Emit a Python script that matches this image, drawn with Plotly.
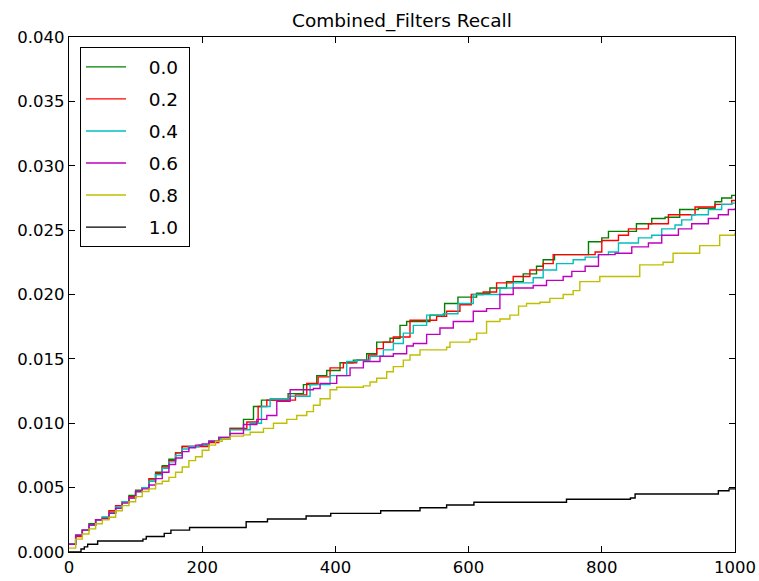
import plotly.graph_objects as go

# Recall curves for each filter weight (step-wise cumulative values)
x_00 = [0, 10, 20, 30, 40, 50, 60, 70, 80, 90, 100, 110, 120, 130, 140, 150, 160, 170, 180, 195,
        210, 225, 242, 262, 277, 289, 317, 329, 352, 372, 387, 407, 427, 447, 462, 482, 497, 507,
        542, 564, 584, 612, 632, 657, 682, 702, 712, 729, 780, 800, 810, 852, 875, 895, 917, 945,
        970, 980, 995, 1000]
y_00 = [0.0006, 0.0013, 0.0017, 0.0022, 0.0025, 0.0027, 0.0031, 0.0036, 0.0039, 0.0044, 0.0048,
        0.0050, 0.0056, 0.0062, 0.0067, 0.0072, 0.0077, 0.0082, 0.0082, 0.0083, 0.0086, 0.0089,
        0.0096, 0.0103, 0.0113, 0.0118, 0.0118, 0.0123, 0.0130, 0.0137, 0.0141, 0.0147, 0.0149,
        0.0154, 0.0163, 0.0166, 0.0176, 0.0179, 0.0184, 0.0193, 0.0198, 0.0201, 0.0205, 0.0210,
        0.0216, 0.0222, 0.0227, 0.0231, 0.0241, 0.0244, 0.0249, 0.0255, 0.0259, 0.0260, 0.0266,
        0.0267, 0.0272, 0.0275, 0.0277, 0.0277]

x_02 = [0, 10, 20, 30, 40, 50, 60, 70, 80, 90, 100, 110, 120, 130, 140, 150, 160, 170, 195, 210,
        225, 242, 267, 284, 297, 340, 357, 374, 392, 412, 432, 450, 462, 472, 487, 512, 552, 567,
        587, 604, 622, 642, 667, 692, 712, 727, 790, 800, 825, 840, 870, 900, 940, 970, 995, 1000]
y_02 = [0.0006, 0.0012, 0.0017, 0.0021, 0.0025, 0.0026, 0.0032, 0.0036, 0.0039, 0.0043, 0.0047,
        0.0050, 0.0057, 0.0061, 0.0066, 0.0071, 0.0077, 0.0082, 0.0082, 0.0085, 0.0088, 0.0096,
        0.0101, 0.0113, 0.0118, 0.0122, 0.0131, 0.0136, 0.0143, 0.0147, 0.0149, 0.0153, 0.0158,
        0.0163, 0.0167, 0.0180, 0.0183, 0.0187, 0.0192, 0.0200, 0.0202, 0.0209, 0.0214, 0.0219,
        0.0224, 0.0231, 0.0233, 0.0242, 0.0246, 0.0251, 0.0255, 0.0262, 0.0268, 0.0270, 0.0273,
        0.0273]

x_04 = [0, 10, 20, 30, 40, 50, 60, 70, 80, 90, 100, 110, 120, 130, 140, 150, 160, 170, 180, 195,
        210, 225, 242, 272, 289, 302, 332, 362, 392, 417, 432, 452, 472, 487, 502, 517, 537, 562,
        584, 607, 647, 667, 697, 712, 732, 757, 775, 795, 810, 825, 855, 875, 890, 910, 920, 935,
        960, 980, 995, 1000]
y_04 = [0.0006, 0.0013, 0.0017, 0.0021, 0.0025, 0.0027, 0.0030, 0.0035, 0.0039, 0.0042, 0.0047,
        0.0050, 0.0055, 0.0060, 0.0065, 0.0070, 0.0075, 0.0080, 0.0082, 0.0083, 0.0086, 0.0088,
        0.0095, 0.0100, 0.0113, 0.0119, 0.0121, 0.0130, 0.0137, 0.0148, 0.0149, 0.0152, 0.0157,
        0.0162, 0.0170, 0.0176, 0.0184, 0.0185, 0.0193, 0.0200, 0.0205, 0.0209, 0.0213, 0.0219,
        0.0224, 0.0227, 0.0229, 0.0231, 0.0233, 0.0240, 0.0244, 0.0246, 0.0251, 0.0254, 0.0258,
        0.0262, 0.0266, 0.0270, 0.0271, 0.0271]

x_06 = [0, 10, 20, 30, 40, 50, 60, 70, 80, 90, 100, 110, 120, 130, 140, 150, 160, 170, 180, 190,
        200, 210, 225, 242, 262, 282, 297, 312, 332, 367, 377, 402, 422, 442, 467, 487, 507, 517,
        537, 557, 577, 607, 627, 647, 667, 697, 717, 742, 755, 775, 795, 820, 845, 870, 890, 915,
        935, 960, 975, 990, 1000]
y_06 = [0.0006, 0.0013, 0.0017, 0.0021, 0.0025, 0.0026, 0.0030, 0.0034, 0.0038, 0.0042, 0.0047,
        0.0049, 0.0052, 0.0057, 0.0062, 0.0068, 0.0073, 0.0078, 0.0081, 0.0083, 0.0084, 0.0086,
        0.0089, 0.0092, 0.0099, 0.0103, 0.0106, 0.0117, 0.0126, 0.0127, 0.0131, 0.0137, 0.0143,
        0.0148, 0.0152, 0.0154, 0.0160, 0.0162, 0.0169, 0.0174, 0.0179, 0.0187, 0.0189, 0.0200,
        0.0205, 0.0207, 0.0211, 0.0214, 0.0218, 0.0222, 0.0231, 0.0232, 0.0237, 0.0240, 0.0246,
        0.0251, 0.0255, 0.0259, 0.0262, 0.0266, 0.0267]

x_08 = [0, 10, 20, 30, 40, 50, 60, 70, 80, 90, 100, 110, 120, 130, 140, 150, 160, 170, 180, 190,
        200, 210, 220, 230, 242, 262, 272, 292, 307, 327, 342, 357, 367, 377, 392, 402, 442, 452,
        462, 477, 487, 502, 512, 527, 567, 572, 602, 612, 627, 647, 662, 675, 687, 707, 722, 742,
        757, 767, 797, 857, 892, 907, 947, 977, 1000]
y_08 = [0.0003, 0.0010, 0.0014, 0.0018, 0.0022, 0.0025, 0.0027, 0.0032, 0.0036, 0.0039, 0.0043,
        0.0047, 0.0049, 0.0053, 0.0055, 0.0058, 0.0062, 0.0066, 0.0071, 0.0074, 0.0079, 0.0083,
        0.0086, 0.0088, 0.0090, 0.0091, 0.0093, 0.0096, 0.0100, 0.0103, 0.0106, 0.0109, 0.0114,
        0.0119, 0.0126, 0.0128, 0.0129, 0.0132, 0.0135, 0.0140, 0.0144, 0.0149, 0.0153, 0.0157,
        0.0159, 0.0163, 0.0165, 0.0170, 0.0179, 0.0181, 0.0184, 0.0191, 0.0193, 0.0194, 0.0197,
        0.0200, 0.0203, 0.0210, 0.0214, 0.0223, 0.0225, 0.0232, 0.0238, 0.0246, 0.0248]

x_10 = [0, 18, 23, 28, 43, 111, 116, 143, 153, 181, 266, 298, 356, 393, 468, 527, 567, 608, 747,
        843, 850, 975, 991, 1000]
y_10 = [0.0, 0.00023, 0.0004, 0.0006, 0.00085, 0.001, 0.0012, 0.00145, 0.0017, 0.0019, 0.00235,
        0.00256, 0.0028, 0.003, 0.0032, 0.00344, 0.00365, 0.00386, 0.0041, 0.0042, 0.0045,
        0.00476, 0.0049, 0.0049]

series = [
    ("0.0", x_00, y_00, "#008000"),
    ("0.2", x_02, y_02, "#ff0000"),
    ("0.4", x_04, y_04, "#00bfbf"),
    ("0.6", x_06, y_06, "#bf00bf"),
    ("0.8", x_08, y_08, "#bfbf00"),
    ("1.0", x_10, y_10, "#000000"),
]

y_ticks = [0.0, 0.005, 0.010, 0.015, 0.020, 0.025, 0.030, 0.035, 0.040]
y_tick_text = ["0.000", "0.005", "0.010", "0.015", "0.020", "0.025", "0.030", "0.035", "0.040"]
x_ticks = [0, 200, 400, 600, 800, 1000]

FONT = "DejaVu Sans"

fig = go.Figure()
for name, xs, ys, color in series:
    fig.add_trace(go.Scatter(
        x=xs, y=ys, mode="lines", name="   " + name + "\u00a0", legendgroup=name,
        line=dict(color=color, width=1.4, shape="hv"),
    ))

axis_common = dict(
    showline=True, linecolor="black", linewidth=1.2, mirror="ticks",
    ticks="inside", ticklen=6, tickcolor="black", tickwidth=1,
    showgrid=False, zeroline=False, automargin=False,
    tickfont=dict(family=FONT, size=16.5, color="black"),
)

fig.update_layout(
    width=759, height=581,
    margin=dict(l=69, r=24, t=37, b=29),
    paper_bgcolor="white", plot_bgcolor="white",
    title=dict(text="Combined_Filters Recall", x=0.5, xanchor="center",
               xref="paper", y=1, yref="paper", yanchor="bottom", pad=dict(b=10),
               font=dict(family=FONT, size=18.5, color="black")),
    xaxis=dict(range=[0, 1000], tickvals=x_ticks, **axis_common),
    yaxis=dict(range=[0, 0.04], tickvals=y_ticks, ticktext=y_tick_text, **axis_common),
    legend=dict(x=0.0165, y=0.98, xanchor="left", yanchor="top",
                bordercolor="black", borderwidth=1, bgcolor="white",
                font=dict(family=FONT, size=18.5, color="black"),
                tracegroupgap=5, itemwidth=40),
    showlegend=True,
)

fig.write_html("out.html")
